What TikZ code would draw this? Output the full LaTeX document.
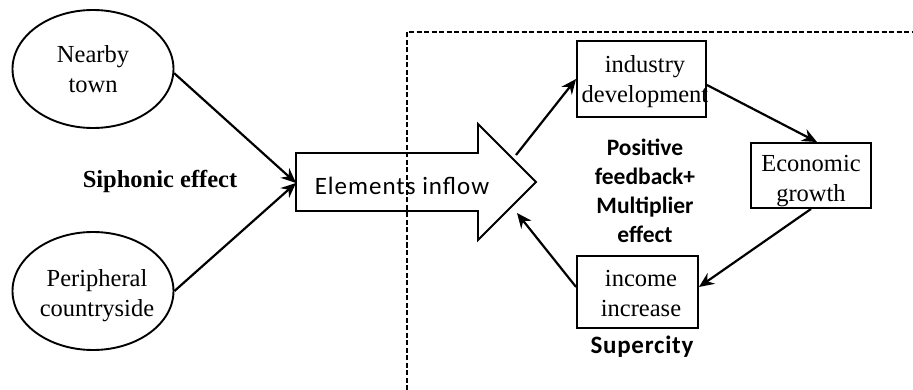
\documentclass[tikz,border=0pt]{standalone}
\usepackage{fontspec}
\setmainfont{Liberation Serif}
\newfontfamily\calfont{Carlito}
\usetikzlibrary{shapes.geometric,arrows.meta,calc}
\begin{document}
\begin{tikzpicture}[x=1pt,y=-1pt,
  every node/.style={inner sep=0pt, align=center},
  serif/.style={font=\fontsize{24.5}{30}\selectfont},
  place/.style={ellipse, draw, line width=1.9pt, minimum width=161pt, minimum height=118pt, serif},
  stage/.style={rectangle, draw, line width=1.9pt, serif},
  conn/.style={line width=2.2pt, -{Stealth[length=15pt,width=13pt,inset=5pt]}},
  note/.style={font=\calfont\bfseries\fontsize{23.5}{29}\selectfont},
  border/.style={line width=1.2pt, dash pattern=on 5pt off 2.5pt}]
  \useasboundingbox (0,0) rectangle (913,390);

  % source areas
  \node[place] (town) at (93,69) {Nearby\\town};
  \node[place] (rural) at (93,291) {};
  \node[serif] at (97,296) {Peripheral\\countryside};
  \node[font=\bfseries\fontsize{24.5}{30}\selectfont, anchor=base] (siph) at (160,188) {Siphonic effect};

  % block arrow of inflowing elements
  \draw[line width=1.9pt] (296,153) -- (478,153) -- (478,124) -- (536,182)
     -- (478,240) -- (478,211) -- (296,211) -- cycle;
  \coordinate (tail) at (296,183);
  \coordinate (headup) at (516,155);
  \coordinate (headlo) at (517,213);
  \node[font=\calfont\fontsize{25}{30}\selectfont\addfontfeature{LetterSpace=4}, anchor=base] (flow) at (402,195) {Elements inflow};

  % supercity boundary
  \coordinate (bl) at (407,390);
  \coordinate (tl) at (407,32);
  \coordinate (tr) at (913,32);
  \draw[border] (bl) -- (tl) -- (tr);

  % feedback loop
  \node[stage, minimum width=129pt, minimum height=76pt] (ind) at (641.5,79) {};
  \node[serif] at (645,82) {industry\\development};
  \node[stage, minimum width=120pt, minimum height=65pt] (eco) at (811,175.5) {};
  \node[serif] at (811,181) {Economic\\growth};
  \node[stage, minimum width=121pt, minimum height=72pt] (inc) at (637.5,292) {};
  \node[serif] at (641,294) {income\\increase};

  \node[note] (pos) at (645,191) {Positive\\feedback+\\Multiplier\\effect};
  \node[font=\calfont\bfseries\fontsize{25}{30}\selectfont\addfontfeature{LetterSpace=3}] (sup) at (642,347) {Supercity};

  % connectors
  \draw[conn] (town.-3) -- (tail);
  \draw[conn] (rural.0) -- (tail);
  \draw[conn] (headup) -- (ind.west);
  \draw[conn] ([yshift=-6pt]ind.east) -- ([xshift=6pt]eco.north);
  \draw[conn] (eco.south) -- ([yshift=5pt]inc.east);
  \draw[conn] ([yshift=5pt]inc.west) -- (headlo);
\end{tikzpicture}
\end{document}
